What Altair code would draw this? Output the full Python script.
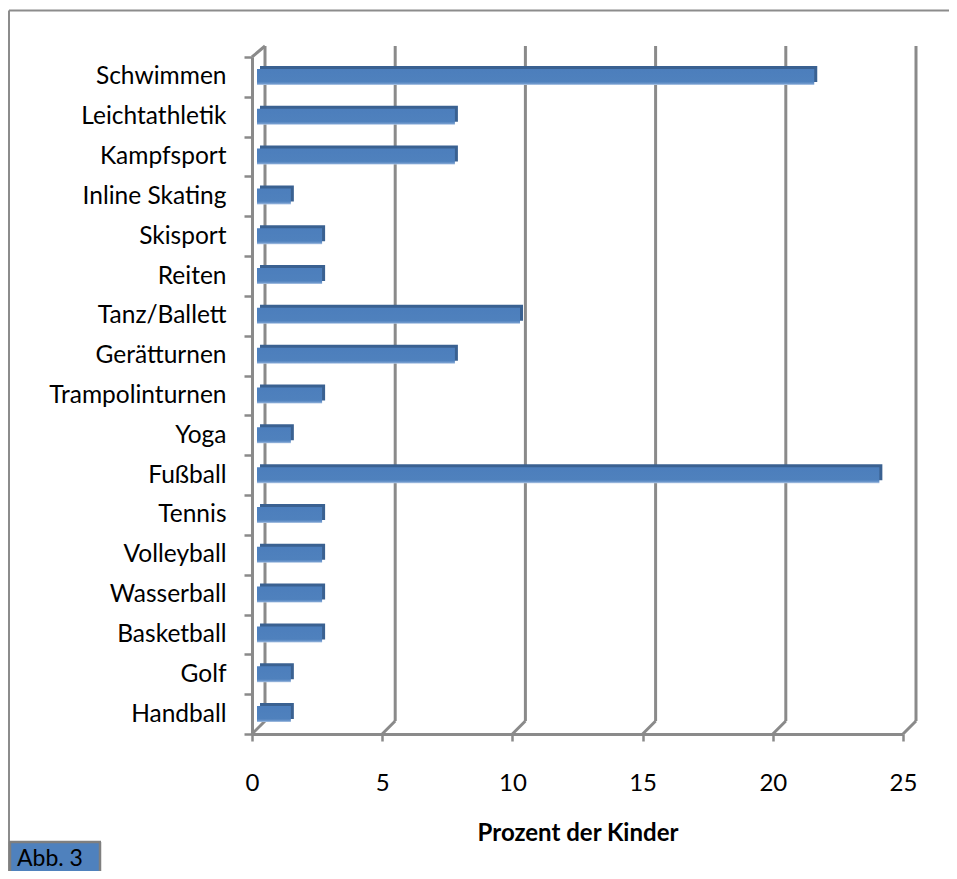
import altair as alt
import pandas as pd

categories = ["Schwimmen", "Leichtathletik", "Kampfsport", "Inline Skating", "Skisport",
              "Reiten", "Tanz/Ballett", "Gerätturnen", "Trampolinturnen", "Yoga",
              "Fußball", "Tennis", "Volleyball", "Wasserball", "Basketball", "Golf", "Handball"]
values = [21.4, 7.6, 7.6, 1.3, 2.5, 2.5, 10.1, 7.6, 2.5, 1.3, 23.9, 2.5, 2.5, 2.5, 2.5, 1.3, 1.3]
tick_values = [0, 5, 10, 15, 20, 25]
x_title = "Prozent der Kinder"
caption = "Abb. 3"

W, H = 651, 677
PAD_R, PAD_B = 46, 137
GRAY = "#8A8A8A"
DEPTH = 13

df = pd.DataFrame({"Sport": categories, "Prozent": values})
grid_df = pd.DataFrame({"t": tick_values})
zero_df = pd.DataFrame({"t": [tick_values[0]]})
cap_df = pd.DataFrame({"label": [caption]})

xscale = alt.Scale(domain=[0, 25], nice=False, zero=True)

# back-wall gridlines
grid = alt.Chart(grid_df).mark_rule(color=GRAY, strokeWidth=3, xOffset=DEPTH, x2Offset=DEPTH).encode(
    x=alt.X("t:Q", scale=xscale),
    y=alt.value(-11),
    y2=alt.value(H - DEPTH),
)
# floor diagonals
floor = alt.Chart(grid_df).mark_rule(color=GRAY, strokeWidth=3, x2Offset=DEPTH).encode(
    x=alt.X("t:Q", scale=xscale),
    x2="t:Q",
    y=alt.value(H),
    y2=alt.value(H - DEPTH),
)
# top-left wall diagonal
topdiag = alt.Chart(zero_df).mark_rule(color=GRAY, strokeWidth=3, x2Offset=DEPTH).encode(
    x=alt.X("t:Q", scale=xscale),
    x2="t:Q",
    y=alt.value(0),
    y2=alt.value(-11),
)

ysort = alt.Y("Sport:N", sort=categories,
              scale=alt.Scale(paddingInner=0, paddingOuter=0),
              axis=alt.Axis(title=None, tickBand="extent", labelPadding=18, tickSize=8,
                            tickWidth=2.5, tickColor=GRAY, domainColor=GRAY, domainWidth=3,
                            labelFontSize=24.5, labelColor="#000000", labelFont="Lato",
                            grid=False))

back = alt.Chart(df).mark_bar(size=16, color="#3A6191", xOffset=8, x2Offset=8,
                              yOffset=-3, y2Offset=-3).encode(
    x=alt.X("Prozent:Q", scale=xscale,
            axis=alt.Axis(values=tick_values, grid=False, tickSize=7, tickWidth=2.5,
                          tickColor=GRAY, domainColor=GRAY, domainWidth=3,
                          labelPadding=30, labelFontSize=24, labelColor="#000000",
                          labelFont="Lato", labelFlush=False,
                          title=x_title, titleFont="Lato", titleFontSize=24,
                          titleFontWeight="bold", titleColor="#000000",
                          titleY=106, titleBaseline="alphabetic")),
    y=ysort,
)

front = alt.Chart(df).mark_bar(
    size=16, xOffset=5, x2Offset=5,
    color=alt.Gradient(gradient="linear", x1=0, x2=0, y1=0, y2=1,
                       stops=[alt.GradientStop(offset=0, color="#4C7EBC"),
                              alt.GradientStop(offset=0.8, color="#4F81BD"),
                              alt.GradientStop(offset=0.92, color="#6E98CC"),
                              alt.GradientStop(offset=1, color="#B7CCE8")]),
).encode(
    x=alt.X("Prozent:Q", scale=xscale),
    y=ysort,
)

# outer frame (top and left edges, ending at the picture's edges)
frame_top = alt.Chart(cap_df).mark_rule(color="#8C8C8C", strokeWidth=2).encode(
    x=alt.value(-243), x2=alt.value(W + PAD_R), y=alt.value(-46.5),
)
frame_left = alt.Chart(cap_df).mark_rule(color="#8C8C8C", strokeWidth=2).encode(
    x=alt.value(-243), y=alt.value(-46.5), y2=alt.value(H + PAD_B),
)
capbox = alt.Chart(cap_df).mark_rect(fill="#4F81BD").encode(
    x=alt.value(-242), x2=alt.value(-152),
    y=alt.value(785), y2=alt.value(H + PAD_B),
)
cap_top = alt.Chart(cap_df).mark_rule(color="#7F7F7F", strokeWidth=2.5).encode(
    x=alt.value(-243), x2=alt.value(-151), y=alt.value(785),
)
cap_left = alt.Chart(cap_df).mark_rule(color="#7F7F7F", strokeWidth=2.5).encode(
    x=alt.value(-242), y=alt.value(785), y2=alt.value(H + PAD_B),
)
cap_right = alt.Chart(cap_df).mark_rule(color="#7F7F7F", strokeWidth=2.5).encode(
    x=alt.value(-152), y=alt.value(785), y2=alt.value(H + PAD_B),
)
captext = alt.Chart(cap_df).mark_text(align="left", baseline="alphabetic", fontSize=23,
                                      font="Lato", color="#000000").encode(
    x=alt.value(-235), y=alt.value(809), text="label:N",
)

chart = alt.layer(frame_top, frame_left, capbox, cap_top, cap_left, cap_right, captext,
                  grid, floor, topdiag, back, front).properties(
    width=W, height=H,
    background="#ffffff",
    autosize=alt.AutoSizeParams(type="none"),
    padding={"left": 244, "top": 49, "right": PAD_R, "bottom": PAD_B},
).configure_view(stroke=None, strokeWidth=0).configure_axis(grid=False)

chart.save("out.html", embed_options={"renderer": "svg", "actions": False})
